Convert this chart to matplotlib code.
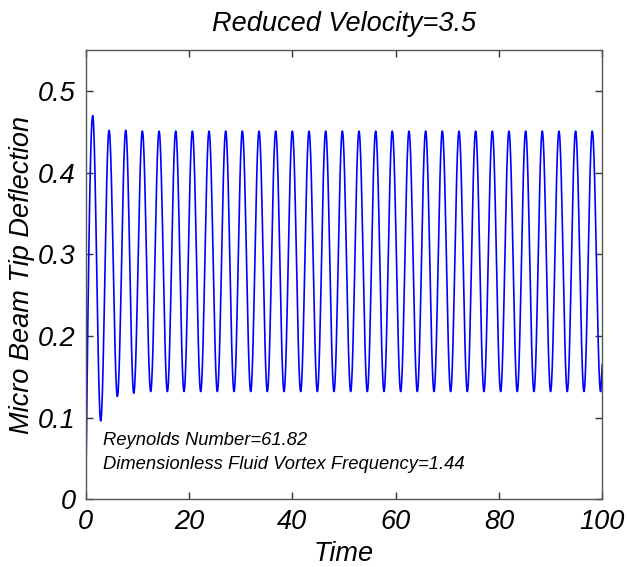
import numpy as np
import matplotlib
matplotlib.use("Agg")
import matplotlib.pyplot as plt

plt.rcParams['font.family'] = ['Liberation Sans', 'DejaVu Sans']

# Extrema of the tip deflection signal (time, value)
ext_times = [0.0, 1.35, 2.90, 4.52, 6.13, 7.75, 9.30, 10.97, 12.58, 14.20, 15.81,
             17.42, 19.03, 20.65, 22.26, 23.87, 25.48, 27.10, 28.71, 30.32, 31.94,
             33.55, 35.16, 36.78, 38.39, 40.00, 41.61, 43.23, 44.84, 46.45, 48.06,
             49.68, 51.29, 52.90, 54.51, 56.13, 57.74, 59.35, 60.97, 62.58, 64.19,
             65.80, 67.42, 69.03, 70.64, 72.26, 73.87, 75.48, 77.09, 78.71, 80.32,
             81.93, 83.54, 85.16, 86.77, 88.38, 89.99, 91.61, 93.22, 94.83, 96.45,
             98.06, 99.67, 100.0]
ext_values = [0.0, 0.470, 0.096, 0.452, 0.126, 0.452, 0.130, 0.451, 0.132, 0.451, 0.132,
              0.451, 0.132, 0.451, 0.132, 0.451, 0.132, 0.451, 0.132, 0.451, 0.132,
              0.451, 0.132, 0.451, 0.132, 0.451, 0.132, 0.451, 0.132, 0.451, 0.132,
              0.451, 0.132, 0.451, 0.132, 0.451, 0.132, 0.451, 0.132, 0.451, 0.132,
              0.451, 0.132, 0.451, 0.132, 0.451, 0.132, 0.451, 0.132, 0.451, 0.132,
              0.451, 0.132, 0.451, 0.132, 0.451, 0.132, 0.451, 0.132, 0.451, 0.132,
              0.451, 0.132, 0.165]

x_ticks = [0, 20, 40, 60, 80, 100]
y_ticks = [0, 0.1, 0.2, 0.3, 0.4, 0.5]
title_text = "Reduced Velocity=3.5"
xlabel_text = "Time"
ylabel_text = "Micro Beam Tip Deflection"
note_lines = ["Reynolds Number=61.82", "Dimensionless Fluid Vortex Frequency=1.44"]

# smooth (half-cosine) rendering between successive extrema
tt, yy = [], []
for i in range(len(ext_times) - 1):
    t0, t1 = ext_times[i], ext_times[i + 1]
    y0, y1 = ext_values[i], ext_values[i + 1]
    s = np.linspace(0, 1, 25, endpoint=False)
    if i == 0:
        shape = np.sin(np.pi * s / 2)
    else:
        shape = (1 - np.cos(np.pi * s)) / 2
    tt.extend(t0 + (t1 - t0) * s)
    yy.extend(y0 + (y1 - y0) * shape)
tt.append(ext_times[-1])
yy.append(ext_values[-1])

fig = plt.figure(figsize=(6.27, 5.67), dpi=100)
ax = fig.add_axes([0.1367, 0.1194, 0.8239, 0.7919])
ax.plot(tt, yy, color='#0000ff', lw=1.2)

ax.set_xlim(0, 100)
ax.set_ylim(0, 0.55)
ax.set_xticks(x_ticks)
ax.set_yticks(y_ticks)
ax.set_xticklabels([str(v) for v in x_ticks])
ax.set_yticklabels(['0' if v == 0 else f"{v:.1f}" for v in y_ticks])

fs = 19.5
ax.tick_params(direction='in', length=5, width=1, top=True, right=True,
               labelsize=fs, colors='#333333', labelcolor='black', pad=7)
for lab in ax.get_xticklabels() + ax.get_yticklabels():
    lab.set_fontstyle('italic')
for sp in ax.spines.values():
    sp.set_color('#555555')
    sp.set_linewidth(1.0)

ax.set_title(title_text, fontsize=fs, fontstyle='italic', pad=14)
ax.set_xlabel(xlabel_text, fontsize=fs, fontstyle='italic', labelpad=4)
ax.set_ylabel(ylabel_text, fontsize=fs, fontstyle='italic', labelpad=2)

ax.text(3.3, 0.0725, note_lines[0], fontsize=13.2, fontstyle='italic', va='center', ha='left')
ax.text(3.3, 0.043, note_lines[1], fontsize=13.2, fontstyle='italic', va='center', ha='left')

fig.savefig("out.png", dpi=100)
